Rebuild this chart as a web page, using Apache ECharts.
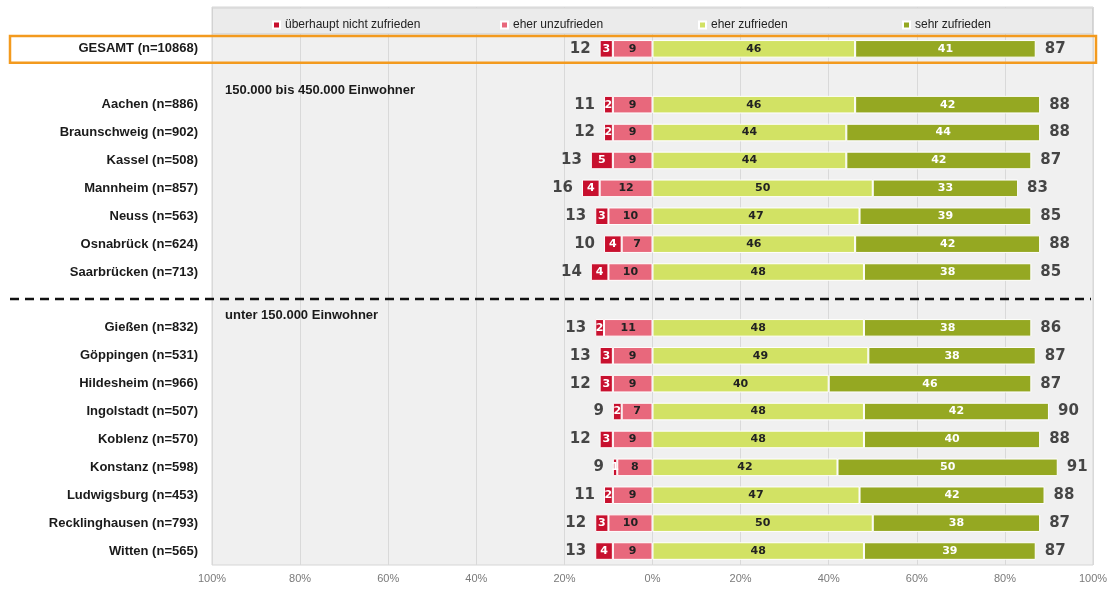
<!DOCTYPE html>
<html>
<head>
<meta charset="utf-8">
<script src="https://cdn.jsdelivr.net/npm/echarts@6/dist/echarts.min.js"></script>
<style>
  html, body { margin: 0; padding: 0; background: #ffffff; }
  #chart { width: 1116px; height: 590px; }
</style>
</head>
<body>
<div id="chart"></div>
<script>
// Rows (top to bottom); empty strings are the legend band and group-header rows
const categories = [
  '', 'GESAMT (n=10868)', '',
  'Aachen (n=886)', 'Braunschweig (n=902)', 'Kassel (n=508)', 'Mannheim (n=857)',
  'Neuss (n=563)', 'Osnabrück (n=624)', 'Saarbrücken (n=713)', '',
  'Gießen (n=832)', 'Göppingen (n=531)', 'Hildesheim (n=966)', 'Ingolstadt (n=507)',
  'Koblenz (n=570)', 'Konstanz (n=598)', 'Ludwigsburg (n=453)',
  'Recklinghausen (n=793)', 'Witten (n=565)'
];

// Shares in percent (null = no bar in that row)
const ueberhauptNicht = [null, 3, null, 2, 2, 5, 4, 3, 4, 4, null, 2, 3, 3, 2, 3, 1, 2, 3, 4];
const eherUnzufrieden = [null, 9, null, 9, 9, 9, 12, 10, 7, 10, null, 11, 9, 9, 7, 9, 8, 9, 10, 9];
const eherZufrieden   = [null, 46, null, 46, 44, 44, 50, 47, 46, 48, null, 48, 49, 40, 48, 48, 42, 47, 50, 48];
const sehrZufrieden   = [null, 41, null, 42, 44, 42, 33, 39, 42, 38, null, 38, 38, 46, 42, 40, 50, 42, 38, 39];

// Rounded totals printed at both ends of each bar
const summeUnzufrieden = [null, 12, null, 11, 12, 13, 16, 13, 10, 14, null, 13, 13, 12, 9, 12, 9, 11, 12, 13];
const summeZufrieden   = [null, 87, null, 88, 88, 87, 83, 85, 88, 85, null, 86, 87, 87, 90, 88, 91, 88, 87, 87];

const xTicks = [-100, -80, -60, -40, -20, 0, 20, 40, 60, 80, 100];

const groupHeaders = ['150.000 bis 450.000 Einwohner', 'unter 150.000 Einwohner'];

const names = ['überhaupt nicht zufrieden', 'eher unzufrieden', 'eher zufrieden', 'sehr zufrieden'];
const colors = ['#c8102e', '#e8687c', '#d2e264', '#95a822'];

const chart = echarts.init(document.getElementById('chart'), null, { renderer: 'canvas' });

const segFont = { fontFamily: 'DejaVu Sans', fontWeight: 'bold', fontSize: 11 };

function negData(arr) { return arr.map(v => v == null ? null : -v); }

function segLabel(color) {
  return Object.assign({
    show: true, position: 'inside', color: color,
    formatter: p => p.value == null ? '' : Math.abs(p.value)
  }, segFont);
}

const barBase = {
  type: 'bar', stack: 'neg', barWidth: '63%',
  itemStyle: { borderColor: '#ffffff', borderWidth: 1 }
};

// endpoints of the negative and positive stacks, used to place the totals
const negEnds = ueberhauptNicht.map((v, i) => v == null ? null : [-(v + eherUnzufrieden[i]), i, summeUnzufrieden[i]]);
const posEnds = eherZufrieden.map((v, i) => v == null ? null : [v + sehrZufrieden[i], i, summeZufrieden[i]]);

const totalLabel = {
  show: true, color: '#1a1a1a', fontFamily: 'DejaVu Sans', fontWeight: 'bold', fontSize: 15,
  formatter: p => p.value[2]
};

const legendBase = {
  top: 14, itemWidth: 7, itemHeight: 7, icon: 'rect', selectedMode: false,
  textStyle: { fontFamily: 'Liberation Sans', fontSize: 12, color: '#222' }
};

const option = {
  backgroundColor: '#ffffff',
  animation: false,
  grid: {
    left: 212, right: 23, top: 7, bottom: 25,
    show: true, backgroundColor: '#f0f0f0', borderColor: '#d6d6d6', borderWidth: 1
  },
  legend: [
    Object.assign({ left: 267, data: [names[0]] }, legendBase),
    Object.assign({ left: 495, data: [names[1]] }, legendBase),
    Object.assign({ left: 693, data: [names[2]] }, legendBase),
    Object.assign({ left: 897, data: [names[3]] }, legendBase)
  ],
  xAxis: {
    type: 'value', min: -100, max: 100, interval: 20,
    axisLine: { show: false }, axisTick: { show: false },
    splitLine: { show: true, lineStyle: { color: '#d9d9d9', width: 1 } },
    axisLabel: {
      color: '#7a7a7a', fontFamily: 'Liberation Sans', fontSize: 11, margin: 8,
      customValues: xTicks,
      formatter: v => Math.abs(v) + '%'
    }
  },
  yAxis: {
    type: 'category', data: categories, inverse: true,
    axisLine: { show: false }, axisTick: { show: false },
    axisLabel: {
      color: '#1a1a1a', fontFamily: 'Liberation Sans', fontWeight: 'bold', fontSize: 13, margin: 14
    }
  },
  series: [
    Object.assign({}, barBase, {
      name: names[1], data: negData(eherUnzufrieden), itemStyle: Object.assign({}, barBase.itemStyle, { color: colors[1] }),
      label: segLabel('#222')
    }),
    Object.assign({}, barBase, {
      name: names[0], data: negData(ueberhauptNicht), itemStyle: Object.assign({}, barBase.itemStyle, { color: colors[0] }),
      label: segLabel('#ffffff')
    }),
    Object.assign({}, barBase, {
      name: names[2], data: eherZufrieden, itemStyle: Object.assign({}, barBase.itemStyle, { color: colors[2] }),
      label: segLabel('#222')
    }),
    Object.assign({}, barBase, {
      name: names[3], data: sehrZufrieden, itemStyle: Object.assign({}, barBase.itemStyle, { color: colors[3] }),
      label: segLabel('#ffffff')
    }),
    {
      type: 'scatter', symbolSize: 0, data: negEnds.filter(Boolean),
      label: Object.assign({ position: 'left', distance: 9 }, totalLabel)
    },
    {
      type: 'scatter', symbolSize: 0, data: posEnds.filter(Boolean),
      label: Object.assign({ position: 'right', distance: 9 }, totalLabel)
    }
  ]
};

chart.setOption(option);

// Legend band, group headings, separator line and highlight frame
function rowY(i) { return chart.convertToPixel({ yAxisIndex: 0 }, i); }
const gLeft = chart.convertToPixel({ xAxisIndex: 0 }, -100);
const gRight = chart.convertToPixel({ xAxisIndex: 0 }, 100);
const rowH = rowY(1) - rowY(0);

chart.setOption({
  graphic: [
    {
      type: 'rect', z: 1, silent: true,
      shape: { x: gLeft + 0.5, y: rowY(0) - rowH / 2 + 1, width: gRight - gLeft - 1, height: rowH - 2 },
      style: { fill: '#ebebeb', stroke: '#d2d2d2', lineWidth: 1 }
    },
    {
      type: 'text', z: 5, silent: true,
      x: gLeft + 13, y: rowY(2) + rowH * 0.5,
      style: { text: groupHeaders[0], font: 'bold 13px "Liberation Sans"', fill: '#1a1a1a', textVerticalAlign: 'middle' }
    },
    {
      type: 'text', z: 5, silent: true,
      x: gLeft + 13, y: rowY(10) + rowH * 0.55,
      style: { text: groupHeaders[1], font: 'bold 13px "Liberation Sans"', fill: '#1a1a1a', textVerticalAlign: 'middle' }
    },
    {
      type: 'line', z: 5, silent: true,
      shape: { x1: 10, y1: rowY(10) - 1, x2: gRight - 2, y2: rowY(10) - 1 },
      style: { stroke: '#111', lineWidth: 2.5, lineDash: [9, 6] }
    },
    {
      type: 'rect', z: 6, silent: true,
      shape: { x: 10, y: rowY(1) - rowH / 2 + 1, width: 1086, height: rowH - 1 },
      style: { fill: 'none', stroke: '#f39a1e', lineWidth: 2.5 }
    }
  ]
});
</script>
</body>
</html>
